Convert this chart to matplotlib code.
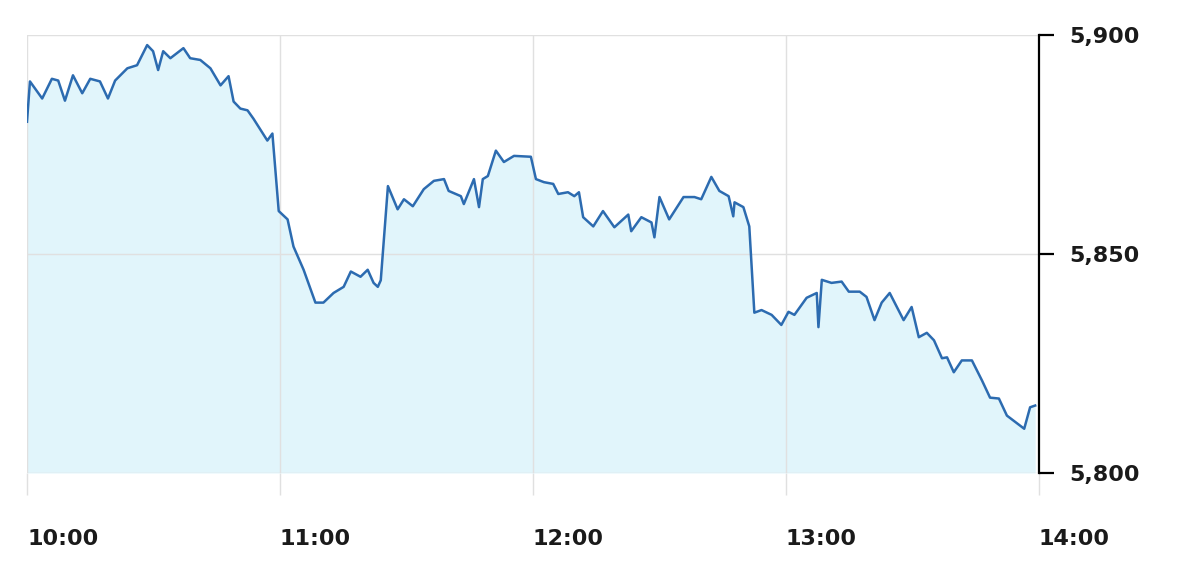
import matplotlib
matplotlib.use('Agg')
import matplotlib.pyplot as plt

# minutes after 10:00 and index level
minutes = [0.0, 0.7, 3.6, 5.9, 7.4, 9.0, 10.9, 13.1, 15.0, 17.3, 19.2, 20.9, 23.8, 26.1,
           28.5, 29.9, 31.1, 32.3, 34.0, 37.1, 38.7, 41.1, 43.5, 45.9, 47.8, 49.0, 50.6,
           52.3, 53.7, 57.0, 58.2, 59.7, 61.8, 63.2, 65.6, 68.4, 70.3, 72.7, 75.1, 76.8,
           79.1, 80.8, 82.2, 83.2, 83.9, 85.6, 87.9, 89.4, 91.5, 94.1, 96.5, 98.9, 100.0,
           102.9, 103.6, 106.0, 107.2, 108.1, 109.3, 111.2, 113.1, 115.5, 119.5, 120.7,
           122.6, 124.8, 126.0, 128.3, 129.8, 130.9, 131.9, 134.3, 136.6, 139.3, 142.6,
           143.3, 145.7, 148.1, 148.8, 150.0, 152.3, 155.7, 158.3, 159.9, 162.3, 164.2,
           166.4, 167.5, 167.8, 169.9, 171.3, 172.5, 174.2, 176.6, 178.9, 180.6, 182.0,
           184.9, 187.3, 187.7, 188.5, 190.8, 193.2, 194.9, 197.5, 199.1, 201.0, 202.7,
           204.6, 206.3, 207.9, 209.8, 211.5, 213.4, 215.1, 217.0, 218.2, 219.8, 221.7,
           224.1, 226.5, 228.4, 230.5, 232.4, 236.5, 237.9, 239.1]
values = [5880.2, 5889.4, 5885.5, 5890.0, 5889.6, 5885.0, 5890.8, 5886.7, 5890.0, 5889.4,
          5885.5, 5889.6, 5892.4, 5893.1, 5897.7, 5896.3, 5892.0, 5896.3, 5894.7, 5897.0,
          5894.7, 5894.3, 5892.4, 5888.5, 5890.6, 5884.8, 5883.2, 5882.8, 5880.9, 5875.9,
          5877.5, 5859.8, 5857.9, 5851.7, 5846.4, 5838.9, 5838.9, 5841.1, 5842.5, 5846.0,
          5844.8, 5846.4, 5843.4, 5842.5, 5844.0, 5865.5, 5860.2, 5862.5, 5860.9, 5864.8,
          5866.7, 5867.1, 5864.4, 5863.2, 5861.4, 5867.1, 5860.7, 5867.1, 5867.8, 5873.6,
          5871.0, 5872.4, 5872.2, 5867.1, 5866.4, 5866.0, 5863.7, 5864.1, 5863.2, 5864.1,
          5858.4, 5856.3, 5859.8, 5856.1, 5859.0, 5855.2, 5858.4, 5857.2, 5853.8, 5863.0,
          5857.9, 5863.0, 5863.0, 5862.5, 5867.6, 5864.4, 5863.2, 5858.6, 5861.8, 5860.7,
          5856.3, 5836.6, 5837.2, 5836.1, 5833.8, 5836.8, 5836.1, 5840.0, 5841.1, 5833.3,
          5844.1, 5843.4, 5843.7, 5841.4, 5841.4, 5840.2, 5834.9, 5838.9, 5841.1, 5837.9,
          5834.9, 5837.9, 5831.0, 5832.0, 5830.3, 5826.2, 5826.4, 5823.0, 5825.7, 5825.7,
          5821.1, 5817.2, 5817.0, 5813.1, 5810.1, 5815.0, 5815.4]

x_ticks = [0, 60, 120, 180, 240]
x_labels = ['10:00', '11:00', '12:00', '13:00', '14:00']
y_ticks = [5800, 5850, 5900]
y_labels = ['5,800', '5,850', '5,900']

fig = plt.figure(figsize=(12, 5.7), dpi=100)
ax = fig.add_axes([0.0225, 0.1702, 0.8433, 0.7684])

ax.fill_between(minutes, values, 5800, color='#e1f5fb', linewidth=0, zorder=1)
ax.plot(minutes, values, color='#2c6bb0', linewidth=1.8, zorder=3)

ax.set_xlim(0, 240)
ax.set_ylim(5800, 5900)

for s in ['left', 'top', 'bottom']:
    ax.spines[s].set_visible(False)
ax.spines['right'].set_color('black')
ax.spines['right'].set_linewidth(1.6)

ax.grid(True, color='#e0e0e0', linewidth=1.0, zorder=0)

ax.set_xticks(x_ticks)
ax.set_xticklabels(x_labels, ha='left', fontsize=16, fontweight='bold', color='#1a1a1a')
ax.tick_params(axis='x', length=16, color='#e0e0e0', width=1.0, direction='out', pad=24)

ax.yaxis.tick_right()
ax.set_yticks(y_ticks)
ax.set_yticklabels(y_labels, fontsize=16, fontweight='bold', color='#1a1a1a')
ax.tick_params(axis='y', length=11, width=1.6, color='black', direction='out', pad=11)

fig.savefig('out.png', dpi=100)
